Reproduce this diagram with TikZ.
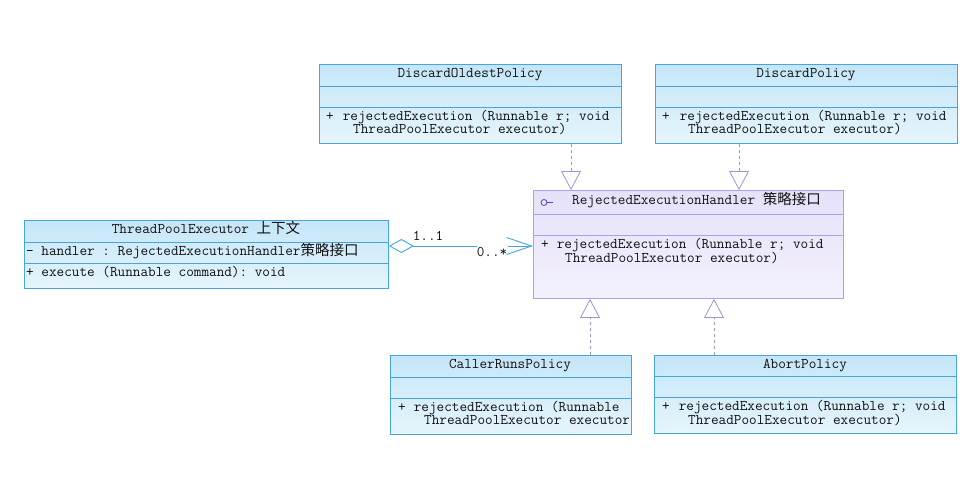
\documentclass[tikz,border=0pt]{standalone}
\usepackage{fontspec}
\setmonofont{Latin Modern Mono}
\newfontfamily\cjk{Noto Sans CJK SC}
\usetikzlibrary{arrows.meta}
\definecolor{bborder}{HTML}{45A5DC}
\definecolor{bfillA}{HTML}{C4E6F8}
\definecolor{bfillB}{HTML}{E6F5FC}
\definecolor{pborder}{HTML}{A9A2E4}
\definecolor{pfillA}{HTML}{E6E1FA}
\definecolor{pfillB}{HTML}{F4F1FD}
\definecolor{realcol}{HTML}{9C96D8}
\definecolor{txtcol}{HTML}{111111}
\definecolor{ifacecol}{HTML}{4A4AB8}
\newcommand\cj[1]{{\cjk\fontsize{14.5}{16}\selectfont #1}}
\begin{document}
\begin{tikzpicture}[x=1pt,y=-1pt,
  bluebox/.style={draw=bborder, line width=0.9pt, top color=bfillA, bottom color=bfillB, inner sep=0, anchor=north west},
  purplebox/.style={draw=pborder, line width=0.9pt, top color=pfillA, bottom color=pfillB, inner sep=0, anchor=north west},
  bsep/.style={draw=bborder, line width=0.9pt},
  psep/.style={draw=pborder, line width=0.9pt},
  txt/.style={font=\ttfamily\fontsize{14.8}{16}\selectfont, text=txtcol, inner sep=0, anchor=west, text height=7pt, text depth=2pt},
  ttl/.style={txt, anchor=center},
  realize/.style={draw=realcol, line width=0.8pt, dash pattern=on 3pt off 3pt, -{Triangle[open, length=19pt, width=20pt, fill=white]}},
  assoc/.style={draw=bborder, line width=0.9pt}
]
\fill[white] (0,0) rectangle (979,490);
\useasboundingbox (0,0) rectangle (979,490);

% ---------- DiscardOldestPolicy ----------
\node[bluebox, minimum width=302pt, minimum height=79pt] (dop) at (319,64) {};
\draw[bsep] (319,86) -- (621,86);
\draw[bsep] (319,107) -- (621,107);
\node[ttl] (dopT) at (470,75) {DiscardOldestPolicy};
\node[txt] (dop1) at (326,118) {+\hspace{9pt}rejectedExecution (Runnable r; void};
\node[txt] (dop3) at (353,131) {ThreadPoolExecutor executor)};

% ---------- DiscardPolicy ----------
\node[bluebox, minimum width=302pt, minimum height=79pt] (dp) at (655,64) {};
\draw[bsep] (655,86) -- (957,86);
\draw[bsep] (655,107) -- (957,107);
\node[ttl] (dpT) at (806,75) {DiscardPolicy};
\node[txt] (dp1) at (662,118) {+\hspace{10pt}rejectedExecution (Runnable r; void};
\node[txt] (dp3) at (688,131) {ThreadPoolExecutor executor)};

% ---------- ThreadPoolExecutor ----------
\node[bluebox, minimum width=364pt, minimum height=68pt] (tpe) at (24,220) {};
\draw[bsep] (24,242) -- (388,242);
\draw[bsep] (24,263) -- (388,263);
\node[ttl] (tpeT) at (206,231) {ThreadPoolExecutor \cj{上下文}};
\node[txt] (tpe1) at (26,252.5) {- handler : RejectedExecutionHandler\cj{策略接口}};
\node[txt] (tpe2) at (26,273.5) {+ execute (Runnable command): void};

% ---------- RejectedExecutionHandler ----------
\node[purplebox, minimum width=310pt, minimum height=108pt] (hdl) at (533,190) {};
\draw[psep] (533,214) -- (843,214);
\draw[psep] (533,235) -- (843,235);
\draw[ifacecol, line width=0.8pt] (544,202.5) circle (3pt);
\draw[ifacecol, line width=0.8pt] (547,202.5) -- (553,202.5);
\node[txt] (hdlT) at (572,202) {RejectedExecutionHandler \cj{策略接口}};
\node[txt] (hdl1) at (541,245.5) {+\hspace{8pt}rejectedExecution (Runnable r; void};
\node[txt] (hdl3) at (565,259.5) {ThreadPoolExecutor executor)};

% ---------- CallerRunsPolicy ----------
\node[bluebox, minimum width=241pt, minimum height=79pt] (crp) at (390,355) {};
\draw[bsep] (390,377) -- (631,377);
\draw[bsep] (390,398) -- (631,398);
\node[ttl] (crpT) at (510,366) {CallerRunsPolicy};
\begin{scope}
\clip (390,398) rectangle (628,434);
\node[txt] (crp1) at (398,409) {+\hspace{8pt}rejectedExecution (Runnable};
\node[txt] (crp3) at (424,422) {ThreadPoolExecutor executor};
\end{scope}

% ---------- AbortPolicy ----------
\node[bluebox, minimum width=302pt, minimum height=78pt] (ap) at (654,355) {};
\draw[bsep] (654,376) -- (956,376);
\draw[bsep] (654,397) -- (956,397);
\node[ttl] (apT) at (805,366) {AbortPolicy};
\node[txt] (ap1) at (662,408) {+\hspace{9pt}rejectedExecution (Runnable r; void};
\node[txt] (ap3) at (688,422) {ThreadPoolExecutor executor)};

% ---------- realizations ----------
\coordinate (xA) at (571,0);
\coordinate (xB) at (739,0);
\coordinate (xC) at (590,0);
\coordinate (xD) at (714,0);
\draw[realize] (dop.south -| xA) -- (hdl.north -| xA);
\draw[realize] (dp.south -| xB) -- (hdl.north -| xB);
\draw[realize] (crp.north -| xC) -- (hdl.south -| xC);
\draw[realize] (ap.north -| xD) -- (hdl.south -| xD);

% ---------- aggregation ----------
\coordinate (yA) at (0,246);
\coordinate (gapL) at (477,246);
\coordinate (gapR) at (508,246);
\draw[assoc, {Diamond[open, length=25pt, width=14pt, fill=white]}-] (tpe.east |- yA) -- (gapL);
\draw[assoc, -{Straight Barb[length=25pt, width=17pt]}] (gapR) -- (hdl.west |- yA);
\node[ttl] (m1) at (428,238) {1..1};
\node[ttl] (m2) at (492,254) {0..*};
\end{tikzpicture}
\end{document}
